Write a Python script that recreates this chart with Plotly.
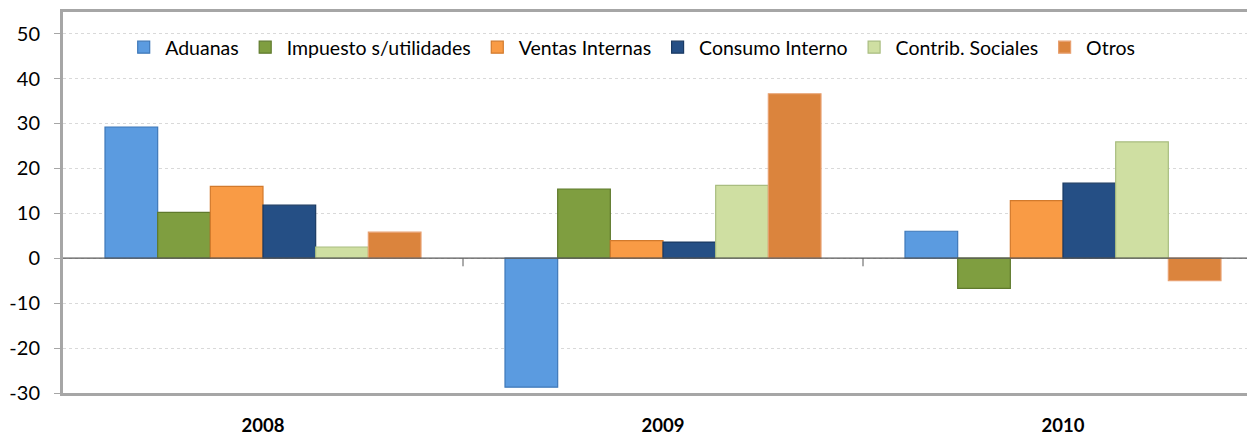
import plotly.graph_objects as go

years = ["2008", "2009", "2010"]
series_names = ["Aduanas", "Impuesto s/utilidades", "Ventas Internas",
                "Consumo Interno", "Contrib. Sociales", "Otros"]
aduanas = [29.2, -28.7, 6.0]
impuesto = [10.2, 15.4, -6.7]
ventas = [16.0, 3.9, 12.8]
consumo = [11.8, 3.6, 16.7]
contrib = [2.5, 16.2, 25.9]
otros = [5.8, 36.6, -5.0]
y_ticks = [-30, -20, -10, 0, 10, 20, 30, 40, 50]
y_tick_labels = ["-30", "-20", "-10", "0", "10", "20", "30", "40", "50"]

values = [aduanas, impuesto, ventas, consumo, contrib, otros]
colors = ["#5B9BE0", "#7F9E40", "#F99B45", "#254F85", "#CFDFA2", "#DB843D"]
edges = ["#3F78B8", "#5F7A2C", "#D27A2C", "#1A3A63", "#A9BD80", "#E8A070"]

fig = go.Figure()
for name, vals, c, e in zip(series_names, values, colors, edges):
    fig.add_trace(go.Bar(x=years, y=vals, name=name,
                         marker=dict(color=c, line=dict(color=e, width=1.2))))

shapes = [dict(type="line", xref="x", yref="y", x0=-0.5, x1=2.6, y0=0, y1=0,
               line=dict(color="#595959", width=1.2))]
for xv in [0.5, 1.5]:
    shapes.append(dict(type="line", xref="x", yref="y", x0=xv, x1=xv, y0=0, y1=-1.8,
                       line=dict(color="#595959", width=1)))

fig.update_layout(
    width=1247, height=437,
    margin=dict(l=63, r=0, t=12, b=44),
    paper_bgcolor="white", plot_bgcolor="white",
    barmode="group", bargap=0.21, bargroupgap=0,
    font=dict(family="Lato, 'Open Sans', sans-serif", color="#000000"),
    showlegend=True,
    legend=dict(orientation="h", x=0.05, y=0.958, xanchor="left", yanchor="top",
                font=dict(size=19.5), bgcolor="rgba(0,0,0,0)",
                itemwidth=33, tracegroupgap=0),
    shapes=shapes,
    xaxis=dict(range=[-0.5, 2.46], showgrid=False, showline=True, mirror=True,
               linecolor="#A6A6A6", linewidth=3, ticks="", zeroline=False,
               tickfont=dict(size=18.5, family="Lato, sans-serif", weight="bold"),
               ticklabelstandoff=14, automargin=False),
    yaxis=dict(range=[-30, 54.8], tickvals=y_ticks, ticktext=y_tick_labels,
               showgrid=True, gridcolor="#D9D9D9", griddash="dot", gridwidth=1,
               showline=True, linecolor="#A6A6A6", linewidth=3,
               ticks="outside", ticklen=6, tickcolor="#A6A6A6",
               tickfont=dict(size=20), zeroline=False, ticklabelstandoff=10,
               automargin=False),
)
fig.write_html("out.html", config={"displayModeBar": False},
               post_script="document.body.style.margin='0';document.body.style.overflow='hidden';")
